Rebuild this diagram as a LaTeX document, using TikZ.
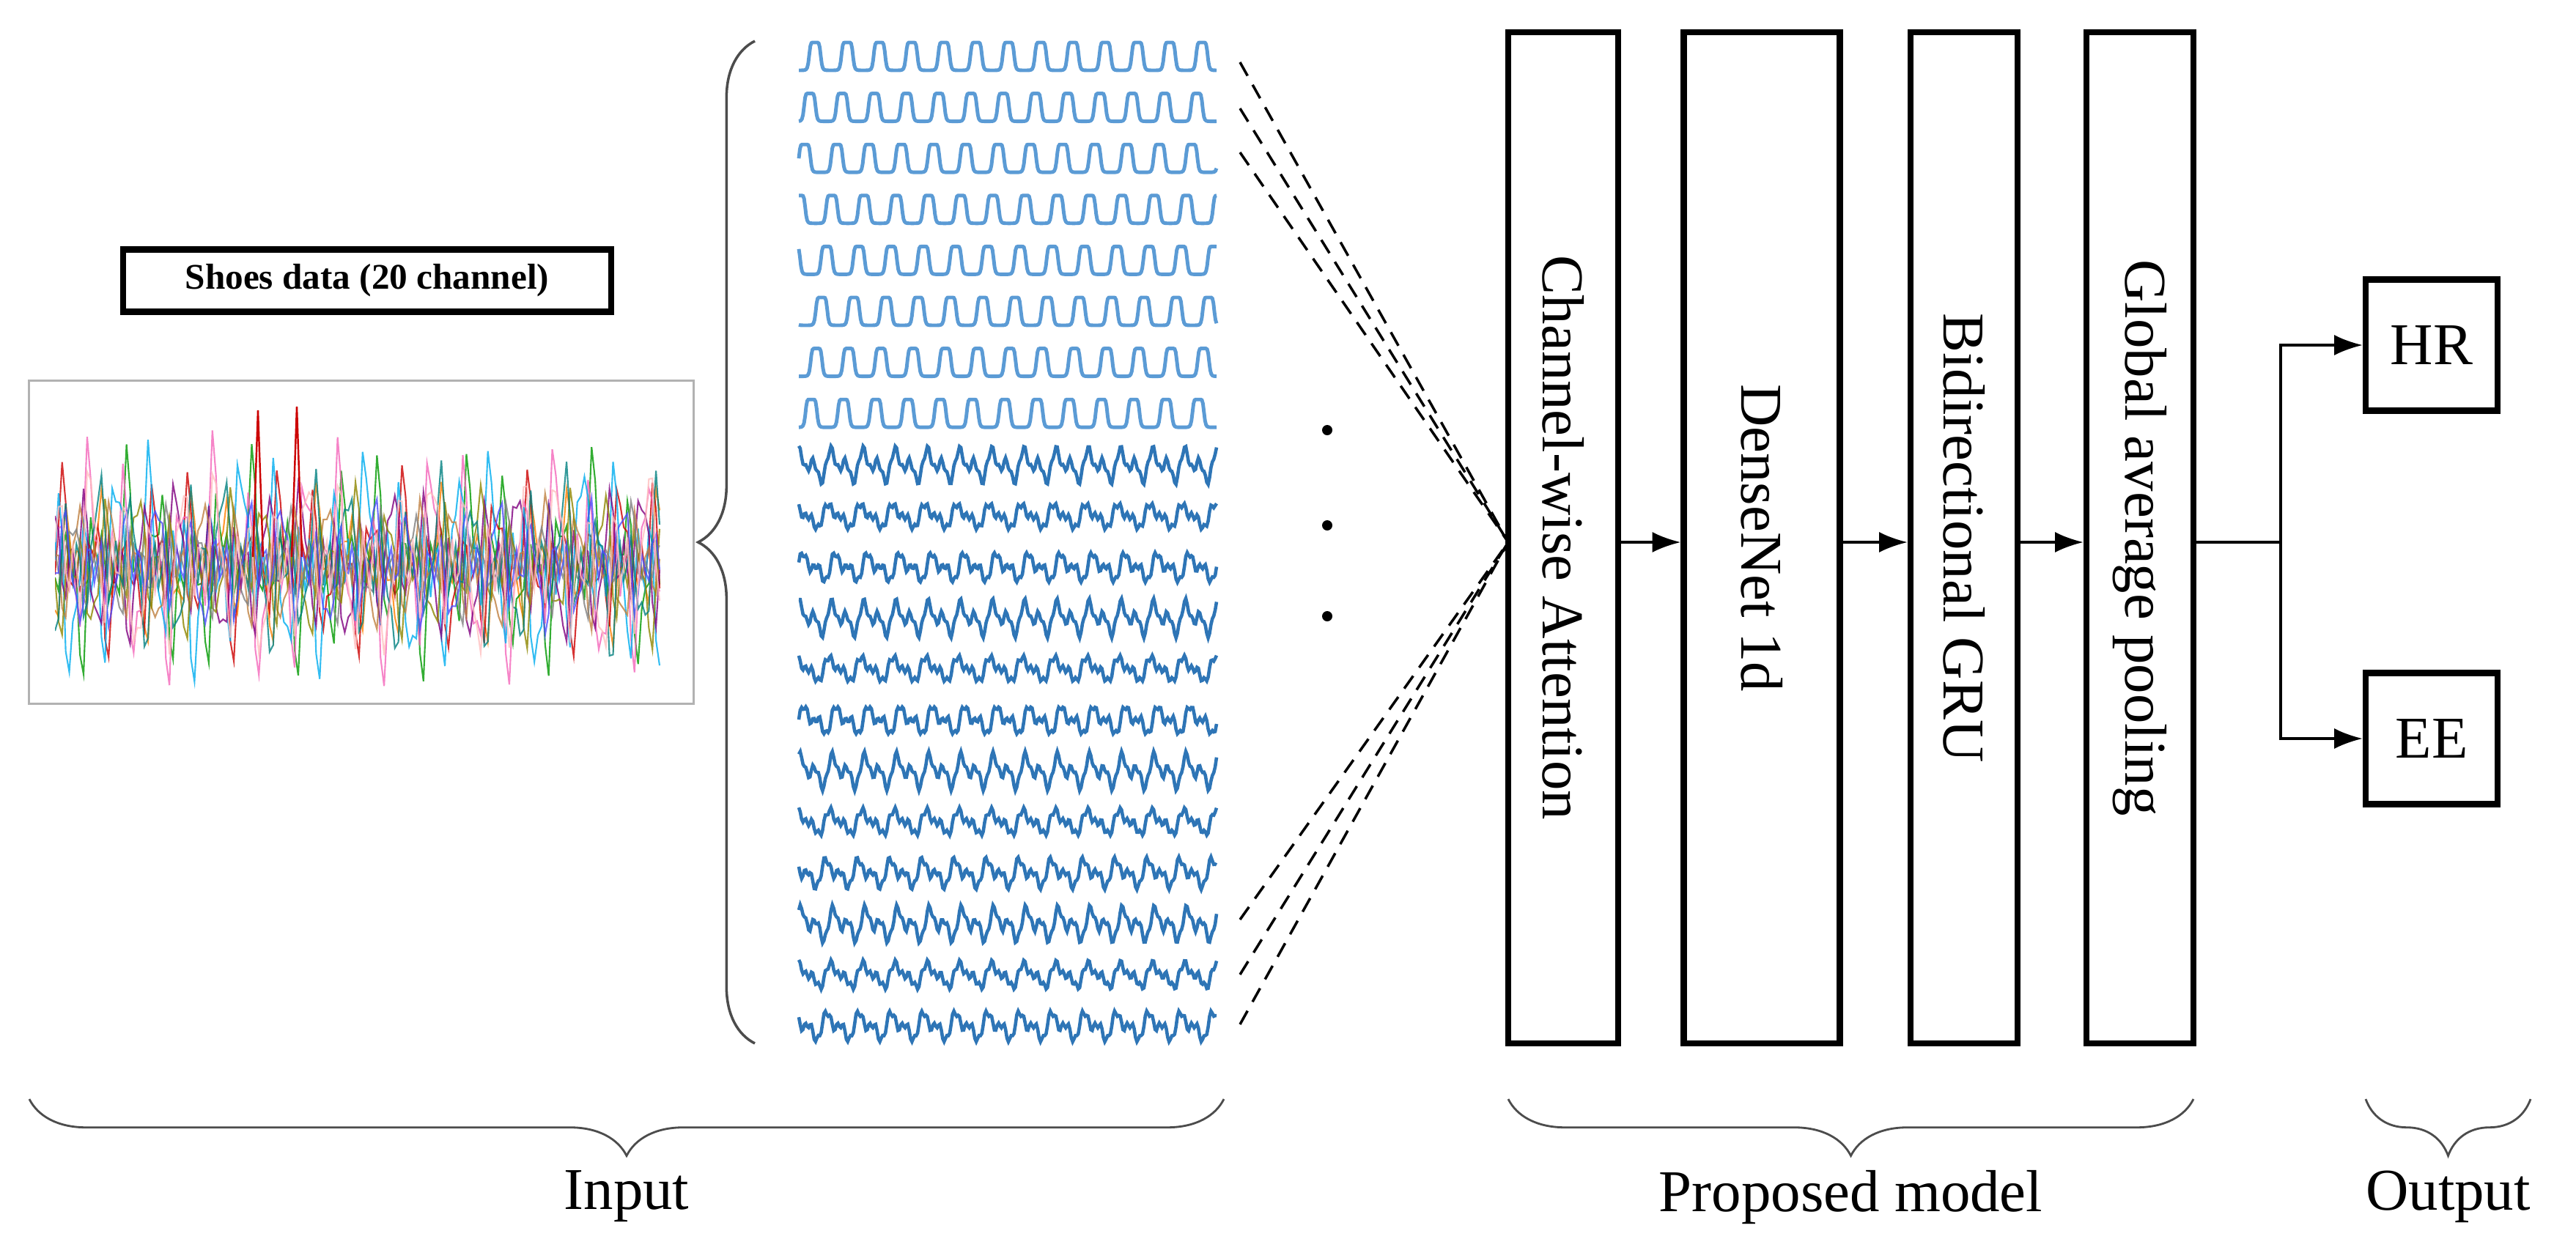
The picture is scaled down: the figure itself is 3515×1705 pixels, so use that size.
\documentclass[tikz,border=0pt]{standalone}
\usepackage{fontspec}
\setmainfont{Liberation Serif}
\usetikzlibrary{arrows.meta,decorations.pathreplacing}
\definecolor{lb}{RGB}{91,155,213}
\definecolor{db}{RGB}{46,117,182}
\begin{document}
\begin{tikzpicture}[x=0.01cm,y=-0.01cm,
  blk/.style={draw,line width=2.4pt,inner sep=0pt},
  lbl/.style={font=\fontsize{23}{27}\selectfont},
  arr/.style={-{Latex[length=11pt,width=8pt]},line width=1pt},
  brc/.style={decorate,decoration={brace,amplitude=22pt},line width=0.8pt,draw=black!70},
  dsh/.style={line width=1pt,dash pattern=on 6pt off 4pt}]
\useasboundingbox (0,0) rectangle (3515,1705);
% shoes box
\node[blk,font=\bfseries\fontsize{14}{16}\selectfont,minimum width=6.66cm,minimum height=0.85cm] (shoes) at (501,383) {Shoes data (20 channel)};
% plot image
\node[draw=black!30,line width=0.8pt,minimum width=9.06cm,minimum height=4.4cm,inner sep=0pt] (plot) at (493,740) {};
\begin{scope}
\clip (75,540) rectangle (905,950);
\foreach \cc/\pp/\aa in {orange/10/90,green!60!black/50/130,red!80!black/90/110,magenta!60/130/150,cyan/170/150,violet/210/110,brown/250/90,olive/290/100,gray/330/70,teal/20/120,blue!70/70/90,pink/120/130}{
  \draw[\cc,line width=0.6pt,opacity=0.8] plot[domain=75:900,samples=170]
   (\x,{770-\aa*sin(8.5*\x+\pp)*abs(sin(3.1*\x+2*\pp))^2-0.3*\aa*sin(21*mod(\x,360)+\pp)});
}
\draw[red!80!black,line width=0.7pt] (345,760)--(352,560)--(359,760) (398,760)--(405,555)--(412,760);
\end{scope}
% brace on signals
\draw[brc,line width=1pt] (1030,1424) -- (1030,56);
% signals
\foreach \i in {0,...,7}{
  \pgfmathsetmacro\yc{78+69.6*\i}
  \pgfmathsetmacro\ph{7*\i}
  \draw[lb,line width=1.4pt] plot[domain=0:570,samples=400]
   ({\x+1090},{\yc+18-38/(1+((mod(\x+\ph,44)-22)/8)^8)});
}
\foreach \i in {8,...,19}{
  \pgfmathsetmacro\yc{78+69.6*\i}
  \pgfmathsetmacro\ph{mod(37*\i,120)}
  \pgfmathsetmacro\ff{mod(\i,3)}
  \draw[db,line width=1.3pt] plot[domain=0:570,samples=300]
   ({\x+1090},{\yc-12*sin(8.2*\x+\ph)-(7+3*\ff)*sin(16.4*\x+2*\ph)-5*sin(41*mod(\x,360)+\ph)});
}
% dots
\foreach \yy [count=\k] in {587,717,841}{\fill (1811,\yy) circle (7);}
% model blocks
\node[blk,minimum width=1.5cm,minimum height=13.79cm] (cwa) at (2133,734) {};
\node[lbl,rotate=-90] at (cwa) {Channel-wise Attention};
\node[blk,minimum width=2.13cm,minimum height=13.79cm] (dn) at (2404,734) {};
\node[lbl,rotate=-90] at (dn) {DenseNet 1d};
\node[blk,minimum width=1.46cm,minimum height=13.79cm] (gru) at (2680,734) {};
\node[lbl,rotate=-90] at (gru) {Bidirectional GRU};
\node[blk,minimum width=1.46cm,minimum height=13.79cm] (gap) at (2920,734) {};
\node[lbl,rotate=-90] at (gap) {Global average pooling};
\coordinate (conv) at (2058,740);
% dashed lines
\foreach \yy [count=\k] in {85,148,208,1255,1330,1398}{
  \coordinate (ds\k) at (1692,\yy);
  \draw[dsh] (ds\k) -- (conv);
}
\draw[arr] (cwa.east |- conv) -- (dn.west |- conv);
\draw[arr] (dn.east |- conv) -- (gru.west |- conv);
\draw[arr] (gru.east |- conv) -- (gap.west |- conv);
% outputs
\node[blk,minimum width=1.8cm,minimum height=1.79cm,lbl] (hr) at (3318,471) {HR};
\node[blk,minimum width=1.8cm,minimum height=1.79cm,lbl] (ee) at (3318,1008) {EE};
\coordinate (br) at (3112,740);
\draw[line width=1pt] (gap.east |- conv) -- (br);
\draw[arr] (br) |- (hr.west);
\draw[arr] (br) |- (ee.west);
% bottom braces
\draw[brc] (1670,1500) -- (40,1500) node[pos=0.5,below=24pt,lbl] (tin) {Input};
\draw[brc] (2993,1500) -- (2058,1500) node[pos=0.5,below=24pt,lbl] (tpm) {Proposed model};
\draw[brc] (3453,1500) -- (3228,1500) node[pos=0.5,below=24pt,lbl] (tout) {Output};
\end{tikzpicture}
\end{document}
